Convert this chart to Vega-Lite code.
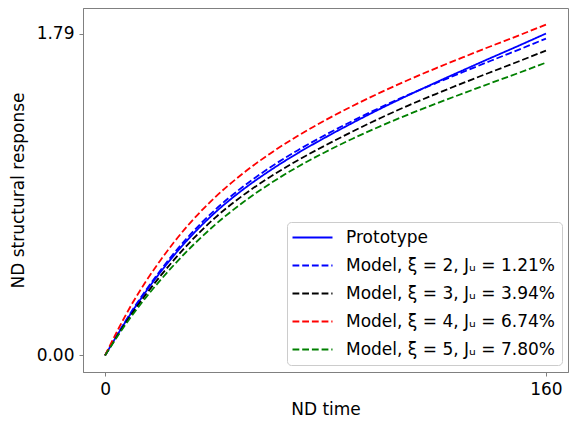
{
  "$schema": "https://vega.github.io/schema/vega-lite/v6.json",
  "width": 485,
  "height": 364,
  "autosize": {"type": "none"},
  "padding": {"left": 83, "top": 8, "right": 1, "bottom": 51},
  "background": "white",
  "config": {
    "view": {"stroke": "#808080", "strokeWidth": 1},
    "font": "DejaVu Sans",
    "axis": {
      "grid": false,
      "domainColor": "#808080",
      "tickColor": "#808080",
      "tickSize": 4,
      "labelFont": "DejaVu Sans",
      "labelFontSize": 17,
      "labelColor": "#000000",
      "labelPadding": 5,
      "titleFont": "DejaVu Sans",
      "titleFontSize": 17,
      "titleFontWeight": "normal",
      "titleColor": "#000000"
    },
    "legend": {
      "labelFont": "DejaVu Sans",
      "labelFontSize": 17,
      "labelColor": "#000000",
      "labelLimit": 400
    }
  },
  "data": {
    "values": [
      {"t": 0, "y": 0, "series": "Prototype"},
      {"t": 5, "y": 0.1275, "series": "Prototype"},
      {"t": 10, "y": 0.2475, "series": "Prototype"},
      {"t": 15, "y": 0.3585, "series": "Prototype"},
      {"t": 20, "y": 0.461, "series": "Prototype"},
      {"t": 25, "y": 0.556, "series": "Prototype"},
      {"t": 30, "y": 0.6435, "series": "Prototype"},
      {"t": 40, "y": 0.7955, "series": "Prototype"},
      {"t": 50, "y": 0.9215, "series": "Prototype"},
      {"t": 60, "y": 1.0295, "series": "Prototype"},
      {"t": 70, "y": 1.1255, "series": "Prototype"},
      {"t": 80, "y": 1.2125, "series": "Prototype"},
      {"t": 90, "y": 1.2945, "series": "Prototype"},
      {"t": 100, "y": 1.3725, "series": "Prototype"},
      {"t": 110, "y": 1.4465, "series": "Prototype"},
      {"t": 120, "y": 1.5175, "series": "Prototype"},
      {"t": 130, "y": 1.5865, "series": "Prototype"},
      {"t": 140, "y": 1.6545, "series": "Prototype"},
      {"t": 150, "y": 1.7215, "series": "Prototype"},
      {"t": 160, "y": 1.79, "series": "Prototype"},

      {"t": 0, "y": 0, "series": "Model, ξ = 2, Jᵤ = 1.21%"},
      {"t": 5, "y": 0.1305, "series": "Model, ξ = 2, Jᵤ = 1.21%"},
      {"t": 10, "y": 0.2535, "series": "Model, ξ = 2, Jᵤ = 1.21%"},
      {"t": 15, "y": 0.3665, "series": "Model, ξ = 2, Jᵤ = 1.21%"},
      {"t": 20, "y": 0.471, "series": "Model, ξ = 2, Jᵤ = 1.21%"},
      {"t": 25, "y": 0.568, "series": "Model, ξ = 2, Jᵤ = 1.21%"},
      {"t": 30, "y": 0.6565, "series": "Model, ξ = 2, Jᵤ = 1.21%"},
      {"t": 40, "y": 0.8105, "series": "Model, ξ = 2, Jᵤ = 1.21%"},
      {"t": 50, "y": 0.9375, "series": "Model, ξ = 2, Jᵤ = 1.21%"},
      {"t": 60, "y": 1.0465, "series": "Model, ξ = 2, Jᵤ = 1.21%"},
      {"t": 70, "y": 1.1415, "series": "Model, ξ = 2, Jᵤ = 1.21%"},
      {"t": 80, "y": 1.2265, "series": "Model, ξ = 2, Jᵤ = 1.21%"},
      {"t": 90, "y": 1.3055, "series": "Model, ξ = 2, Jᵤ = 1.21%"},
      {"t": 100, "y": 1.3795, "series": "Model, ξ = 2, Jᵤ = 1.21%"},
      {"t": 110, "y": 1.4485, "series": "Model, ξ = 2, Jᵤ = 1.21%"},
      {"t": 120, "y": 1.5135, "series": "Model, ξ = 2, Jᵤ = 1.21%"},
      {"t": 130, "y": 1.5765, "series": "Model, ξ = 2, Jᵤ = 1.21%"},
      {"t": 140, "y": 1.6385, "series": "Model, ξ = 2, Jᵤ = 1.21%"},
      {"t": 150, "y": 1.6995, "series": "Model, ξ = 2, Jᵤ = 1.21%"},
      {"t": 160, "y": 1.762, "series": "Model, ξ = 2, Jᵤ = 1.21%"},

      {"t": 0, "y": 0, "series": "Model, ξ = 3, Jᵤ = 3.94%"},
      {"t": 5, "y": 0.1225, "series": "Model, ξ = 3, Jᵤ = 3.94%"},
      {"t": 10, "y": 0.2375, "series": "Model, ξ = 3, Jᵤ = 3.94%"},
      {"t": 15, "y": 0.3425, "series": "Model, ξ = 3, Jᵤ = 3.94%"},
      {"t": 20, "y": 0.44, "series": "Model, ξ = 3, Jᵤ = 3.94%"},
      {"t": 25, "y": 0.531, "series": "Model, ξ = 3, Jᵤ = 3.94%"},
      {"t": 30, "y": 0.6165, "series": "Model, ξ = 3, Jᵤ = 3.94%"},
      {"t": 40, "y": 0.7665, "series": "Model, ξ = 3, Jᵤ = 3.94%"},
      {"t": 50, "y": 0.8895, "series": "Model, ξ = 3, Jᵤ = 3.94%"},
      {"t": 60, "y": 0.9935, "series": "Model, ξ = 3, Jᵤ = 3.94%"},
      {"t": 70, "y": 1.0855, "series": "Model, ξ = 3, Jᵤ = 3.94%"},
      {"t": 80, "y": 1.1685, "series": "Model, ξ = 3, Jᵤ = 3.94%"},
      {"t": 90, "y": 1.2465, "series": "Model, ξ = 3, Jᵤ = 3.94%"},
      {"t": 100, "y": 1.3205, "series": "Model, ξ = 3, Jᵤ = 3.94%"},
      {"t": 110, "y": 1.3895, "series": "Model, ξ = 3, Jᵤ = 3.94%"},
      {"t": 120, "y": 1.4535, "series": "Model, ξ = 3, Jᵤ = 3.94%"},
      {"t": 130, "y": 1.5155, "series": "Model, ξ = 3, Jᵤ = 3.94%"},
      {"t": 140, "y": 1.5755, "series": "Model, ξ = 3, Jᵤ = 3.94%"},
      {"t": 150, "y": 1.6345, "series": "Model, ξ = 3, Jᵤ = 3.94%"},
      {"t": 160, "y": 1.695, "series": "Model, ξ = 3, Jᵤ = 3.94%"},

      {"t": 0, "y": 0, "series": "Model, ξ = 4, Jᵤ = 6.74%"},
      {"t": 5, "y": 0.1525, "series": "Model, ξ = 4, Jᵤ = 6.74%"},
      {"t": 10, "y": 0.2925, "series": "Model, ξ = 4, Jᵤ = 6.74%"},
      {"t": 15, "y": 0.4155, "series": "Model, ξ = 4, Jᵤ = 6.74%"},
      {"t": 20, "y": 0.527, "series": "Model, ξ = 4, Jᵤ = 6.74%"},
      {"t": 25, "y": 0.629, "series": "Model, ξ = 4, Jᵤ = 6.74%"},
      {"t": 30, "y": 0.7215, "series": "Model, ξ = 4, Jᵤ = 6.74%"},
      {"t": 40, "y": 0.8805, "series": "Model, ξ = 4, Jᵤ = 6.74%"},
      {"t": 50, "y": 1.0115, "series": "Model, ξ = 4, Jᵤ = 6.74%"},
      {"t": 60, "y": 1.1235, "series": "Model, ξ = 4, Jᵤ = 6.74%"},
      {"t": 70, "y": 1.2215, "series": "Model, ξ = 4, Jᵤ = 6.74%"},
      {"t": 80, "y": 1.3085, "series": "Model, ξ = 4, Jᵤ = 6.74%"},
      {"t": 90, "y": 1.3885, "series": "Model, ξ = 4, Jᵤ = 6.74%"},
      {"t": 100, "y": 1.4625, "series": "Model, ξ = 4, Jᵤ = 6.74%"},
      {"t": 110, "y": 1.5315, "series": "Model, ξ = 4, Jᵤ = 6.74%"},
      {"t": 120, "y": 1.5965, "series": "Model, ξ = 4, Jᵤ = 6.74%"},
      {"t": 130, "y": 1.6585, "series": "Model, ξ = 4, Jᵤ = 6.74%"},
      {"t": 140, "y": 1.7195, "series": "Model, ξ = 4, Jᵤ = 6.74%"},
      {"t": 150, "y": 1.7785, "series": "Model, ξ = 4, Jᵤ = 6.74%"},
      {"t": 160, "y": 1.84, "series": "Model, ξ = 4, Jᵤ = 6.74%"},

      {"t": 0, "y": 0, "series": "Model, ξ = 5, Jᵤ = 7.80%"},
      {"t": 5, "y": 0.1175, "series": "Model, ξ = 5, Jᵤ = 7.80%"},
      {"t": 10, "y": 0.2265, "series": "Model, ξ = 5, Jᵤ = 7.80%"},
      {"t": 15, "y": 0.3255, "series": "Model, ξ = 5, Jᵤ = 7.80%"},
      {"t": 20, "y": 0.417, "series": "Model, ξ = 5, Jᵤ = 7.80%"},
      {"t": 25, "y": 0.503, "series": "Model, ξ = 5, Jᵤ = 7.80%"},
      {"t": 30, "y": 0.5835, "series": "Model, ξ = 5, Jᵤ = 7.80%"},
      {"t": 40, "y": 0.7275, "series": "Model, ξ = 5, Jᵤ = 7.80%"},
      {"t": 50, "y": 0.8505, "series": "Model, ξ = 5, Jᵤ = 7.80%"},
      {"t": 60, "y": 0.9565, "series": "Model, ξ = 5, Jᵤ = 7.80%"},
      {"t": 70, "y": 1.0495, "series": "Model, ξ = 5, Jᵤ = 7.80%"},
      {"t": 80, "y": 1.1315, "series": "Model, ξ = 5, Jᵤ = 7.80%"},
      {"t": 90, "y": 1.2065, "series": "Model, ξ = 5, Jᵤ = 7.80%"},
      {"t": 100, "y": 1.2755, "series": "Model, ξ = 5, Jᵤ = 7.80%"},
      {"t": 110, "y": 1.3395, "series": "Model, ξ = 5, Jᵤ = 7.80%"},
      {"t": 120, "y": 1.3995, "series": "Model, ξ = 5, Jᵤ = 7.80%"},
      {"t": 130, "y": 1.4575, "series": "Model, ξ = 5, Jᵤ = 7.80%"},
      {"t": 140, "y": 1.5145, "series": "Model, ξ = 5, Jᵤ = 7.80%"},
      {"t": 150, "y": 1.5705, "series": "Model, ξ = 5, Jᵤ = 7.80%"},
      {"t": 160, "y": 1.628, "series": "Model, ξ = 5, Jᵤ = 7.80%"}
    ]
  },
  "mark": {"type": "line", "strokeWidth": 1.8, "interpolate": "monotone", "clip": true},
  "encoding": {
    "x": {
      "field": "t",
      "type": "quantitative",
      "scale": {"domain": [-8, 168], "nice": false, "zero": false},
      "axis": {"values": [0, 160], "title": "ND time", "titlePadding": 4}
    },
    "y": {
      "field": "y",
      "type": "quantitative",
      "scale": {"domain": [-0.0922, 1.932], "nice": false, "zero": false},
      "axis": {"values": [0, 1.79], "format": ".2f", "title": "ND structural response", "titlePadding": 9}
    },
    "color": {
      "field": "series",
      "type": "nominal",
      "sort": null,
      "scale": {
        "domain": ["Prototype", "Model, ξ = 2, Jᵤ = 1.21%", "Model, ξ = 3, Jᵤ = 3.94%", "Model, ξ = 4, Jᵤ = 6.74%", "Model, ξ = 5, Jᵤ = 7.80%"],
        "range": ["#0000ff", "#0000ff", "#000000", "#ff0000", "#008000"]
      },
      "legend": {
        "title": null,
        "orient": "none",
        "legendX": 204,
        "legendY": 214,
        "symbolType": "M-2,0H6",
        "symbolSize": 100,
        "symbolStrokeWidth": 1.8,
        "labelOffset": 35,
        "rowPadding": 10,
        "padding": 7,
        "strokeColor": "#cccccc",
        "fillColor": "#ffffff",
        "cornerRadius": 4
      }
    },
    "strokeDash": {
      "field": "series",
      "type": "nominal",
      "sort": null,
      "scale": {
        "domain": ["Prototype", "Model, ξ = 2, Jᵤ = 1.21%", "Model, ξ = 3, Jᵤ = 3.94%", "Model, ξ = 4, Jᵤ = 6.74%", "Model, ξ = 5, Jᵤ = 7.80%"],
        "range": [[1, 0], [6.8, 2.9], [6.8, 2.9], [6.8, 2.9], [6.8, 2.9]]
      },
      "legend": null
    },
    "order": {"field": "t", "type": "quantitative"}
  }
}
